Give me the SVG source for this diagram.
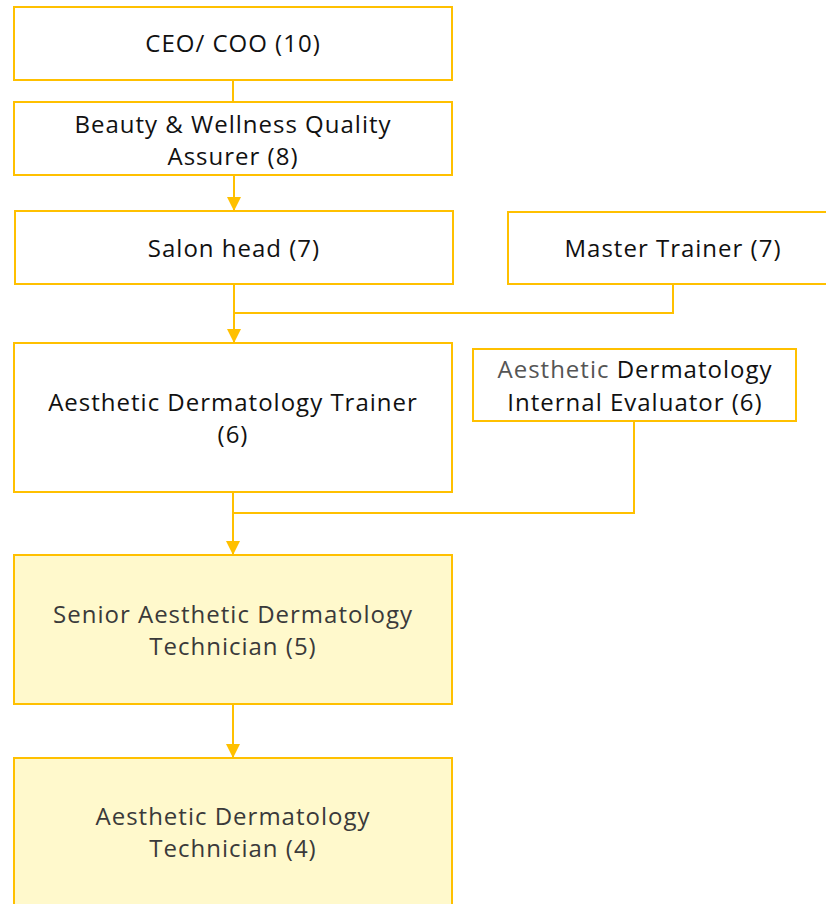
<svg xmlns="http://www.w3.org/2000/svg" width="826" height="904" viewBox="0 0 826 904">
<style>
.box{fill:#fff;stroke:#FFC000;stroke-width:2}
.ybox{fill:#FFF9CC;stroke:#FFC000;stroke-width:2}
.t{font-family:"Open Sans","Liberation Sans",sans-serif;font-size:24px;letter-spacing:1px;fill:#111;text-anchor:middle}
.ty{fill:#3a3a3a}
.grey{fill:#555}
.c{fill:none;stroke:#FFC000;stroke-width:2}
</style>
<defs>
<marker id="arr" markerWidth="14" markerHeight="14" refX="14" refY="7" orient="auto" markerUnits="userSpaceOnUse" viewBox="0 0 14 14">
<path d="M0,0 L14,7 L0,14 Z" fill="#FFC000"/>
</marker>
</defs>
<rect width="826" height="904" fill="#fff"/>
<g id="connectors">
<path class="c" d="M233,80 V102"/>
<path class="c" d="M234,175 V211" marker-end="url(#arr)"/>
<path class="c" d="M234,284 V343" marker-end="url(#arr)"/>
<path class="c" d="M673,284 V313 H234"/>
<path class="c" d="M233,492 V555" marker-end="url(#arr)"/>
<path class="c" d="M634,421 V513 H233"/>
<path class="c" d="M233,704 V758" marker-end="url(#arr)"/>
</g>
<g id="ceo">
<rect class="box" x="14" y="7" width="438" height="73"/>
<text class="t" x="233" y="52">CEO/ COO (10)</text>
</g>
<g id="quality">
<rect class="box" x="14" y="102" width="438" height="73"/>
<text class="t" x="233" y="133">Beauty &amp; Wellness Quality</text>
<text class="t" x="233" y="165">Assurer (8)</text>
</g>
<g id="salon">
<rect class="box" x="15" y="211" width="438" height="73"/>
<text class="t" x="234" y="257">Salon head (7)</text>
</g>
<g id="master">
<rect class="box" x="508" y="212" width="330" height="72"/>
<text class="t" x="673" y="257">Master Trainer (7)</text>
</g>
<g id="trainer">
<rect class="box" x="14" y="343" width="438" height="149"/>
<text class="t" x="233" y="411">Aesthetic Dermatology Trainer</text>
<text class="t" x="233" y="443">(6)</text>
</g>
<g id="evaluator">
<rect class="box" x="473" y="349" width="323" height="72"/>
<text class="t" x="635" y="378"><tspan class="grey">Aesthetic</tspan> Dermatology</text>
<text class="t" x="635" y="411">Internal Evaluator (6)</text>
</g>
<g id="senior">
<rect class="ybox" x="14" y="555" width="438" height="149"/>
<text class="t ty" x="233" y="623">Senior Aesthetic Dermatology</text>
<text class="t ty" x="233" y="655">Technician (5)</text>
</g>
<g id="technician">
<rect class="ybox" x="14" y="758" width="438" height="160"/>
<text class="t ty" x="233" y="825">Aesthetic Dermatology</text>
<text class="t ty" x="233" y="857">Technician (4)</text>
</g>
</svg>
